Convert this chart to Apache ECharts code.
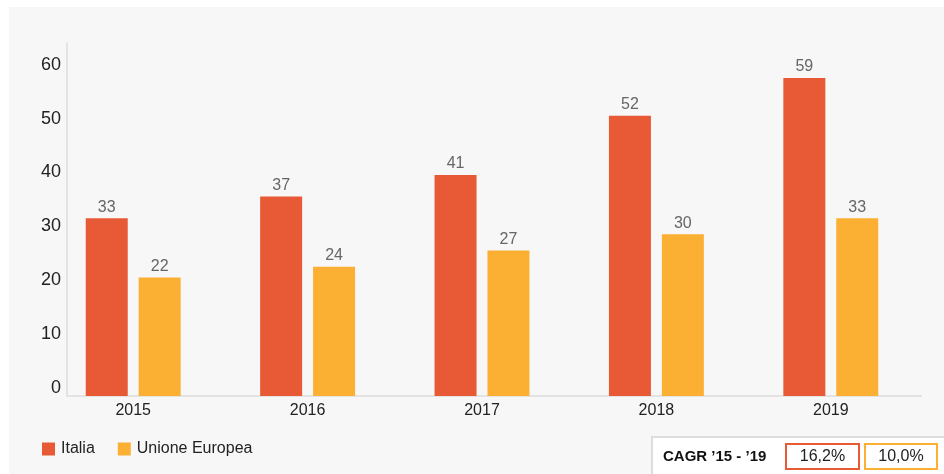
<!DOCTYPE html>
<html>
<head>
<meta charset="utf-8">
<script src="https://cdn.jsdelivr.net/npm/echarts@6/dist/echarts.min.js"></script>
<style>
  html, body { margin: 0; padding: 0; background: #ffffff; }
  #chart { width: 944px; height: 474px; }
</style>
</head>
<body>
<div id="chart"></div>
<script>
// Years on the category axis
const years = ['2015', '2016', '2017', '2018', '2019'];
// Values for Italy and the European Union
const italia = [33, 37, 41, 52, 59];
const unioneEuropea = [22, 24, 27, 30, 33];
// Series names shown in the legend
const seriesNames = ['Italia', 'Unione Europea'];
// Compound annual growth rates for the box at the bottom right
const cagrLabel = 'CAGR \u201915 - \u201919';
const cagrValues = ['16,2%', '10,0%'];

const RED = '#E85A35';
const ORANGE = '#FBB034';
const FONT = '"Liberation Sans", Arial, Helvetica, sans-serif';

const chart = echarts.init(document.getElementById('chart'), null, { renderer: 'canvas' });

const barLabel = {
  show: true,
  position: 'top',
  distance: 3,
  color: '#666666',
  fontSize: 16,
  fontFamily: FONT
};

const option = {
  animation: false,
  backgroundColor: 'transparent',
  textStyle: { fontFamily: FONT },
  grid: { left: 46, right: 26, top: 43, bottom: 78 },
  legend: {
    left: 42,
    top: 441,
    padding: 0,
    itemWidth: 13,
    itemHeight: 13,
    itemGap: 23,
    icon: 'rect',
    textStyle: { color: '#222222', fontSize: 16, fontFamily: FONT, padding: [0, 0, 0, 1] },
    data: seriesNames
  },
  xAxis: {
    type: 'category',
    data: years,
    axisLine: { show: false },
    axisTick: { show: false },
    axisLabel: { color: '#222222', fontSize: 16, margin: 7, fontFamily: FONT }
  },
  yAxis: {
    type: 'value',
    min: 0,
    max: 65.5,
    interval: 10,
    offset: -21,
    axisLine: { show: true, lineStyle: { color: '#e3e3e3', width: 2 } },
    axisTick: { show: false },
    splitLine: { show: false },
    axisLabel: {
      showMaxLabel: false,
      color: '#222222',
      fontSize: 18,
      margin: 6,
      verticalAlign: 'bottom',
      lineHeight: 16,
      fontFamily: FONT
    }
  },
  series: [
    {
      name: seriesNames[0],
      type: 'bar',
      data: italia,
      barWidth: 42,
      barGap: '26%',
      itemStyle: { color: RED },
      label: barLabel
    },
    {
      name: seriesNames[1],
      type: 'bar',
      data: unioneEuropea,
      barWidth: 42,
      itemStyle: { color: ORANGE },
      label: barLabel
    }
  ]
};

chart.setOption(option);

// Background panel, x-axis baseline and the CAGR box
const baseY = Math.round(chart.convertToPixel({ yAxisIndex: 0 }, 0));
chart.setOption({
  graphic: [
    {
      type: 'rect', z: -10, silent: true,
      shape: { x: 9, y: 7, width: 944 - 9, height: 474 - 7 },
      style: { fill: '#f7f7f7' }
    },
    {
      type: 'line', z: 1, silent: true,
      shape: { x1: 67, y1: baseY, x2: 922, y2: baseY },
      style: { stroke: '#e3e3e3', lineWidth: 2 }
    },
    {
      type: 'rect', z: 5, silent: true,
      shape: { x: 652, y: 437, width: 300, height: 45 },
      style: { fill: '#ffffff', stroke: '#dddddd', lineWidth: 2 }
    },
    {
      type: 'text', z: 6, silent: true,
      style: {
        x: 663, y: 457, text: cagrLabel,
        fill: '#111111', font: 'bold 15px ' + FONT,
        verticalAlign: 'middle', align: 'left'
      }
    },
    {
      type: 'rect', z: 6, silent: true,
      shape: { x: 786, y: 444, width: 73, height: 25 },
      style: { fill: '#ffffff', stroke: RED, lineWidth: 2 }
    },
    {
      type: 'text', z: 7, silent: true,
      style: {
        x: 822.5, y: 457, text: cagrValues[0],
        fill: '#222222', font: '16px ' + FONT,
        verticalAlign: 'middle', align: 'center'
      }
    },
    {
      type: 'rect', z: 6, silent: true,
      shape: { x: 865, y: 444, width: 72, height: 25 },
      style: { fill: '#ffffff', stroke: ORANGE, lineWidth: 2 }
    },
    {
      type: 'text', z: 7, silent: true,
      style: {
        x: 901, y: 457, text: cagrValues[1],
        fill: '#222222', font: '16px ' + FONT,
        verticalAlign: 'middle', align: 'center'
      }
    }
  ]
});
</script>
</body>
</html>
